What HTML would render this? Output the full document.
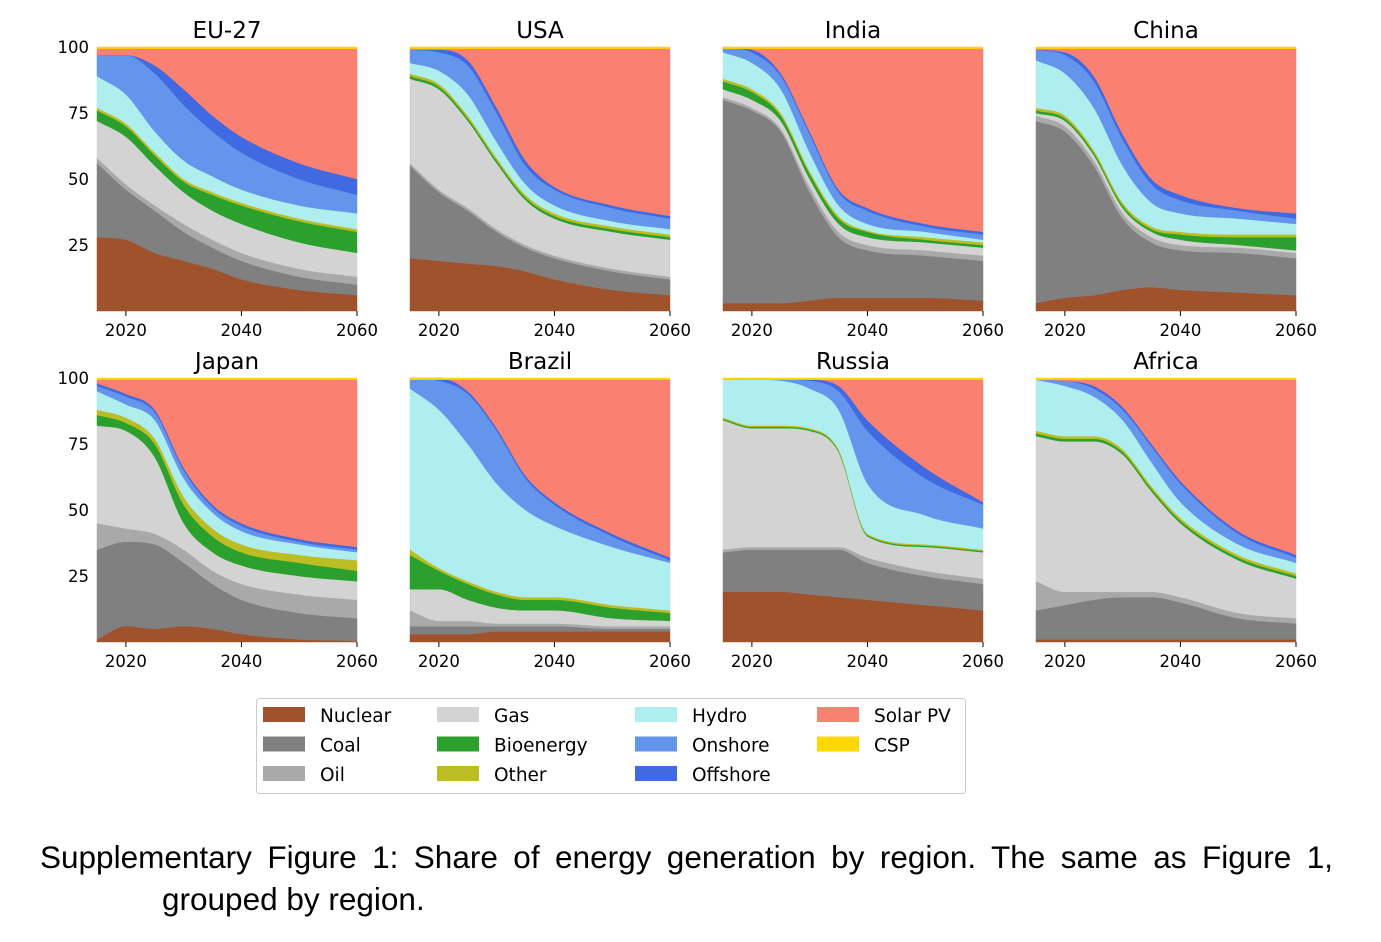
<!DOCTYPE html>
<html><head><meta charset="utf-8">
<style>
body{margin:0;background:#fff;width:1381px;height:942px;overflow:hidden;font-family:"Liberation Sans",sans-serif;}
svg{position:absolute;left:0;top:0}
.cap{position:absolute;left:40px;width:1293px;font-size:31.5px;color:#000;line-height:42px}
</style></head><body>
<svg id="chart" width="1381" height="942" xmlns="http://www.w3.org/2000/svg" font-family="DejaVu Sans, sans-serif"></svg>
<div class="cap" style="top:836px">
<div style="text-align:justify;text-align-last:justify">Supplementary Figure 1: Share of energy generation by region. The same as Figure 1,</div>
<div style="padding-left:122px">grouped by region.</div>
</div>
<script>
const years = [2015, 2020, 2025, 2030, 2035, 2040, 2050, 2060];
const techs = ["Nuclear","Coal","Oil","Gas","Bioenergy","Other","Hydro","Onshore","Offshore","Solar PV","CSP"];
const colors = ["#a0522d","#808080","#a9a9a9","#d3d3d3","#2ca02c","#bcbd22","#afeeee","#6495ed","#4169e1","#fa8072","#ffd700"];
const regions = ["EU-27","USA","India","China","Japan","Brazil","Russia","Africa"];
// cumulative stack tops (%) per region, per technology, per year
const topEU = [[28,27,22,19,16,12,8,6],[56,46,38,30,24,19,13,10],[58,48,40,33,27,22,16,13],[72,66,55,45,38,33,26,22],[76,70,59,49,44,40,34,30],[77,71,60,50,45,41,35,31],[89,82,68,57,51,46,40,37],[97,97,90,78,68,60,50,44],[97,97,93,84,74,66,56,50],[99.4,99.4,99.4,99.4,99.4,99.4,99.4,99.4],[100,100,100,100,100,100,100,100]];
const topUSA = [[20,19,18,17,15,12,8,6],[55,45,38,30,24,20,15,12],[56,46,39,31,25,21,16,13],[88,84,72,56,42,35,30,27],[89,85,73,57,43,36,31,28],[90,86,74,58,44,37,32,29],[94,91,82,64,48,40,34,31],[99,98,93,75,55,46,39,35],[99,99,95,77,57,47,40,36],[99.4,99.4,99.4,99.4,99.4,99.4,99.4,99.4],[100,100,100,100,100,100,100,100]];
const topIndia = [[3,3,3,4,5,5,5,4],[80,76,68,45,28,23,21,19],[81,77,69,47,30,25,23,21],[84,80,72,50,33,28,26,24],[87,83,74,52,35,30,27,25],[88,84,75,53,36,30.5,28,26],[98,94,84,60,40,33,30,27],[100,98,89,67,45,38,32,29],[100,99,90,68,46,39,33,30],[99.4,99.4,99.4,99.4,99.4,99.4,99.4,99.4],[100,100,100,100,100,100,100,100]];
const topChina = [[3,5,6,8,9,8,7,6],[72,68,55,35,26,23,22,20],[74,70,57,37,28,25,24,22],[75,72,59,39,30,27,25,23],[76,73,60,40,31,29,28,28],[77,74,61,41,32,30,29,29],[95,90,77,55,41,37,35,33],[99,97,87,65,48,42,38,35],[99,98,89,67,50,44,39,37],[99.4,99.4,99.4,99.4,99.4,99.4,99.4,99.4],[100,100,100,100,100,100,100,100]];
const topJapan = [[1,6,5,6,5,3,1,0.5],[35,38,37,30,22,16,11,9],[45,43,41,35,27,22,18,16],[82,80,70,45,34,29,25,23],[86,83,75,52,40,34,30,27],[88,85,77,55,43,37,33,31],[95,90,84,62,49,42,37,34],[97,93,87,65,51,44,38,35],[98,94,88,66,52,45,39,36],[99.4,99.4,99.4,99.4,99.4,99.4,99.4,99.4],[100,100,100,100,100,100,100,100]];
const topBrazil = [[3,3,3,4,4,4,4,4],[6,6,6,6,6,6,5,5],[12,8,8,7,7,7,6,6],[20,20,16,13,12,12,9,8],[33,27,22,18,16,16,13,11],[35,28,23,19,17,17,14,12],[96,88,75,60,50,44,36,30],[100,99,94,80,62,52,40,31],[100,100,95,81,63,53,41,32],[99.4,99.4,99.4,99.4,99.4,99.4,99.4,99.4],[100,100,100,100,100,100,100,100]];
const topRussia = [[19,19,19,18,17,16,14,12],[34,35,35,35,35,30,25,22],[35,36,36,36,36,32,27,24],[84,81,81,80,72,40,36,34],[84.5,81.5,81.5,80.5,72.5,40.5,36.5,34.5],[85,82,82,81,73,41,37,35],[99.4,99.4,99,96,88,60,48,43],[99.4,99.4,99.4,99,95,80,62,52],[99.4,99.4,99.4,99.4,97,84,66,53],[99.4,99.4,99.4,99.4,99.4,99.4,99.4,99.4],[100,100,100,100,100,100,100,100]];
const topAfrica = [[1,1,1,1,1,1,1,1],[12,14,16,17,17,15,9,7],[23,19,19,19,19,17,11,9],[78,76,76,71,57,45,31,24],[79,77,77,72,58,46,32,25],[80,78,78,73,59,47,33,26],[99.4,97,93,84,68,53,37,30],[99.4,99,96,88,74,60,41,32],[99.4,99,97,89,75,61,42,33],[99.4,99.4,99.4,99.4,99.4,99.4,99.4,99.4],[100,100,100,100,100,100,100,100]];
const allTops = [topEU, topUSA, topIndia, topChina, topJapan, topBrazil, topRussia, topAfrica];
const yTicks = [25, 50, 75, 100];
const xTicks = [2020, 2040, 2060];

// monotone cubic interpolation (Fritsch-Carlson)
function monotone(xs, ys){
  const n=xs.length, d=[], m=new Array(n);
  for(let i=0;i<n-1;i++) d.push((ys[i+1]-ys[i])/(xs[i+1]-xs[i]));
  m[0]=d[0]; m[n-1]=d[n-2];
  for(let i=1;i<n-1;i++) m[i]= (d[i-1]*d[i]<=0)?0:(d[i-1]+d[i])/2;
  for(let i=0;i<n-1;i++){
    if(d[i]===0){m[i]=0;m[i+1]=0;continue;}
    const a=m[i]/d[i], b=m[i+1]/d[i], s=a*a+b*b;
    if(s>9){const t=3/Math.sqrt(s);m[i]=t*a*d[i];m[i+1]=t*b*d[i];}
  }
  return x=>{
    let i=0; while(i<n-2 && x>xs[i+1]) i++;
    const h=xs[i+1]-xs[i], t=(x-xs[i])/h, t2=t*t, t3=t2*t;
    return (2*t3-3*t2+1)*ys[i]+(t3-2*t2+t)*h*m[i]+(-2*t3+3*t2)*ys[i+1]+(t3-t2)*h*m[i+1];
  };
}

const NS = "http://www.w3.org/2000/svg";
const svg = document.getElementById("chart");
function mk(tag, attrs, parent){const e=document.createElementNS(NS,tag);for(const k in attrs)e.setAttribute(k,attrs[k]);(parent||svg).appendChild(e);return e;}
const colX=[97,410,723,1036], rowY=[47,378], W=260, H=264;
const samp=[]; for(let yv=2015; yv<=2060.001; yv+=0.5) samp.push(yv);
regions.forEach((reg,ri)=>{
  const x0=colX[ri%4], y0=rowY[Math.floor(ri/4)];
  const g=mk("g",{});
  
  
  const xs=yr=>x0+(yr-2015)/45*W;
  const ys=v=>y0+H-v/100*H;
  const tops=allTops[ri];
  const curves=tops.map(top=>{const f=monotone(years,top);return samp.map(f);});
  curves.forEach((top,ti)=>{
    const bot= ti===0? samp.map(()=>0) : curves[ti-1];
    let d="M"+samp.map((yr,i)=>xs(yr).toFixed(1)+","+ys(top[i]).toFixed(1)).join("L");
    for(let i=samp.length-1;i>=0;i--) d+="L"+xs(samp[i]).toFixed(1)+","+ys(bot[i]).toFixed(1);
    d+="Z";
    const p=mk("path",{d:d,fill:colors[ti],stroke:colors[ti],"stroke-width":0.5},g);
    
    
  });
  const t=mk("text",{x:x0+W/2,y:y0-9,"text-anchor":"middle","font-size":23},g);
  t.textContent=reg;
  
  
  xTicks.forEach(v=>{
    mk("line",{x1:xs(v),x2:xs(v),y1:y0+H,y2:y0+H+5,stroke:"#000","stroke-width":1},g);
    const tx=mk("text",{x:xs(v),y:y0+H+25,"text-anchor":"middle","font-size":16.5},g);
    tx.textContent=v;
    
    
  });
  if(ri%4===0){
    yTicks.forEach(v=>{
      const ty=mk("text",{x:x0-8,y:ys(v)+6,"text-anchor":"end","font-size":16.5},g);
      ty.textContent=v;
      
      
    });
  }
});
// legend
const lg=mk("g",{});


mk("rect",{x:256.5,y:698.5,width:709,height:95,rx:3,fill:"#fff",stroke:"#ccc"},lg);
const lcols=[[263,320],[437,494],[635,692],[817,874]];
const lorder=[[0,1,2],[3,4,5],[6,7,8],[9,10]];
lorder.forEach((col,ci)=>col.forEach((ti,r)=>{
  const yy=715+r*29.5;
  mk("rect",{x:lcols[ci][0],y:yy-8,width:42,height:15,fill:colors[ti]},lg);
  const tt=mk("text",{x:lcols[ci][1],y:yy+7,"font-size":18.5},lg);
  tt.textContent=techs[ti];
  
  
}));
</script>
</body></html>
